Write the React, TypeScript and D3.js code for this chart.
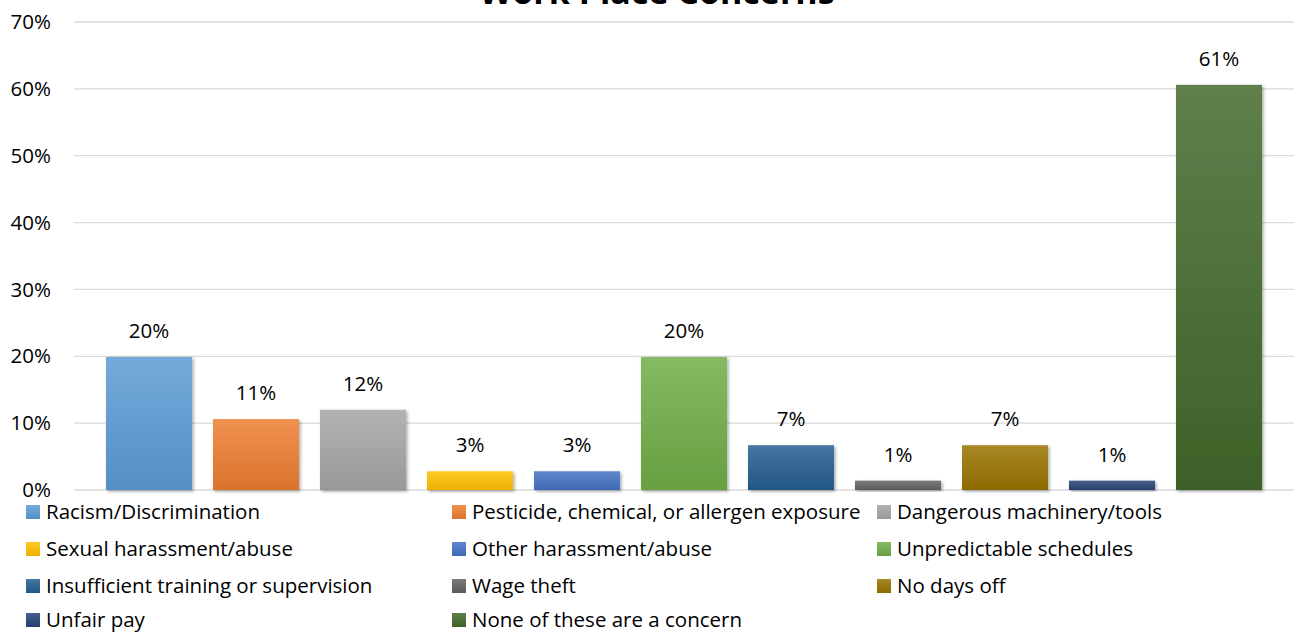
import React from "react";
import * as d3 from "d3";

const categories = [
  "Racism/Discrimination",
  "Pesticide, chemical, or allergen exposure",
  "Dangerous machinery/tools",
  "Sexual harassment/abuse",
  "Other harassment/abuse",
  "Unpredictable schedules",
  "Insufficient training or supervision",
  "Wage theft",
  "No days off",
  "Unfair pay",
  "None of these are a concern",
];
const values = [19.9, 10.6, 12.0, 2.8, 2.8, 19.9, 6.7, 1.4, 6.7, 1.4, 60.6];
const labels = ["20%", "11%", "12%", "3%", "3%", "20%", "7%", "1%", "7%", "1%", "61%"];
const colors = [
  "#5B9BD5", "#ED7D31", "#A5A5A5", "#FFC000", "#4472C4", "#70AD47",
  "#255E91", "#636363", "#997300", "#264478", "#43682B",
];
const yTicks = [0, 10, 20, 30, 40, 50, 60, 70];
const title = "Work Place Concerns";

const W = 1294, H = 632;
const FONT = "'Open Sans', 'Noto Sans', sans-serif";

export default function App() {
  const y = d3.scaleLinear().domain([0, 70]).range([490, 22]);
  const x = d3.scaleBand<number>().domain(d3.range(categories.length)).range([95.5, 1272.5]).paddingInner(0.196).paddingOuter(0.098);
  const legendCols = [26, 452, 877];
  const legendRows = [512, 549, 586, 620];
  return (
    <svg width={W} height={H} style={{ position: "absolute", left: 0, top: 0, background: "#fff" }} fontFamily={FONT}>
      <defs>
        {colors.map((c, i) => {
          const top = d3.interpolateRgb(c, "#ffffff")(0.15);
          const bot = d3.interpolateRgb(c, "#000000")(0.08);
          return (
            <linearGradient key={i} id={`g${i}`} x1="0" y1="0" x2="0" y2="1">
              <stop offset="0" stopColor={top} />
              <stop offset="1" stopColor={bot} />
            </linearGradient>
          );
        })}
        <filter id="sh" x="-20%" y="-20%" width="140%" height="140%">
          <feDropShadow dx="1.5" dy="1.5" stdDeviation="1.5" floodColor="#000" floodOpacity="0.35" />
        </filter>
      </defs>
      <text x={657} y={4} textAnchor="middle" fontSize={34} fontWeight="bold" fill="#000">{title}</text>
      {yTicks.map((t) => (
        <g key={t}>
          <line x1={74} x2={1294} y1={y(t)} y2={y(t)} stroke="#d9d9d9" strokeWidth={1.3} />
          <text x={51} y={y(t)} dy="0.35em" textAnchor="end" fontSize={20.5} fill="#000">{t}%</text>
        </g>
      ))}
      {values.map((v, i) => (
        <g key={i}>
          <rect x={x(i)} y={y(v)} width={x.bandwidth()} height={y(0) - y(v)} fill={`url(#g${i})`} filter="url(#sh)" />
          <text x={(x(i) as number) + x.bandwidth() / 2} y={y(v) - 26} dy="0.35em" textAnchor="middle" fontSize={20.5} fill="#000">{labels[i]}</text>
        </g>
      ))}
      {categories.map((c, i) => {
        const col = i % 3, row = Math.floor(i / 3);
        const lx = legendCols[col], ly = legendRows[row];
        return (
          <g key={c}>
            <rect x={lx} y={ly - 7} width={14} height={14} fill={`url(#g${i})`} />
            <text x={lx + 20} y={ly} dy="0.35em" fontSize={20.5} fill="#000">{c}</text>
          </g>
        );
      })}
    </svg>
  );
}
